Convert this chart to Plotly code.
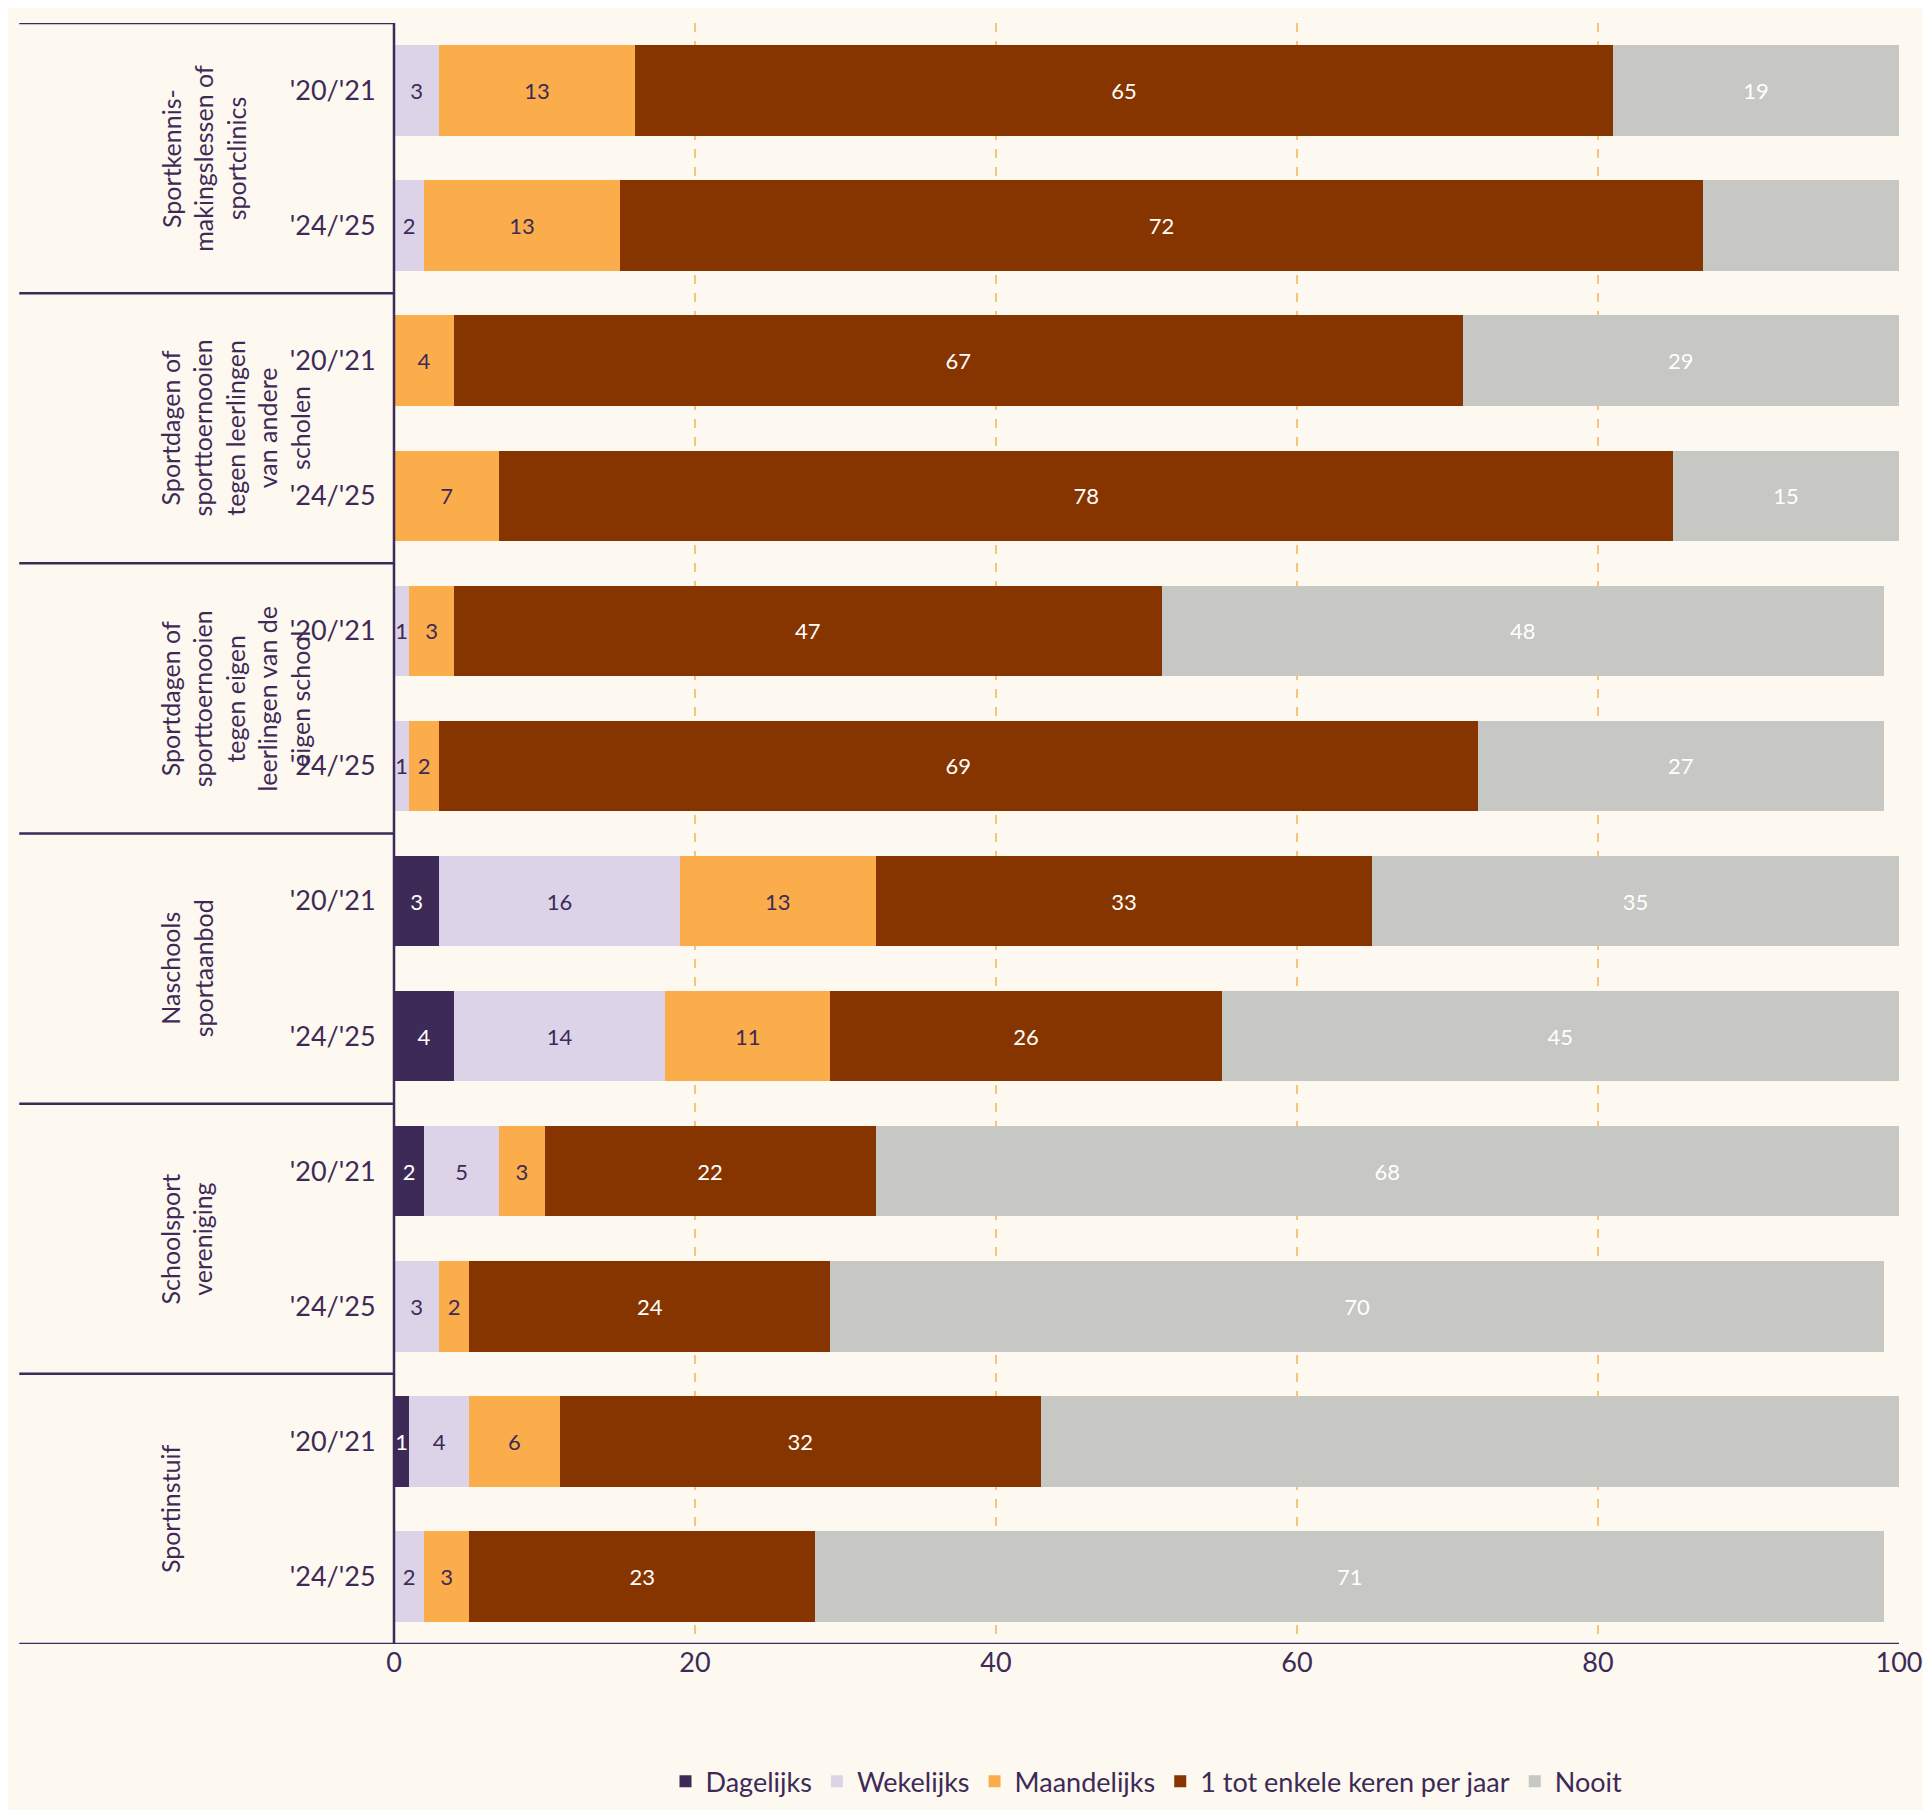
import plotly.graph_objects as go

groups = ["Sportkennis-<br>makingslessen of<br>sportclinics",
          "Sportdagen of<br>sporttoernooien<br>tegen leerlingen<br>van andere<br>scholen",
          "Sportdagen of<br>sporttoernooien<br>tegen eigen<br>leerlingen van de<br>eigen school",
          "Naschools<br>sportaanbod",
          "Schoolsport<br>vereniging",
          "Sportinstuif"]
years = ["'20/'21", "'24/'25"]
series = ["Dagelijks", "Wekelijks", "Maandelijks", "1 tot enkele keren per jaar", "Nooit"]
values = {
    "Dagelijks":   [0, 0, 0, 0, 0, 0, 3, 4, 2, 0, 1, 0],
    "Wekelijks":   [3, 2, 0, 0, 1, 1, 16, 14, 5, 3, 4, 2],
    "Maandelijks": [13, 13, 4, 7, 3, 2, 13, 11, 3, 2, 6, 3],
    "1 tot enkele keren per jaar": [65, 72, 67, 78, 47, 69, 33, 26, 22, 24, 32, 23],
    "Nooit":       [19, 14, 29, 15, 48, 27, 35, 45, 68, 70, 58, 71],
}
colors = ["#3d2a57", "#dcd3e9", "#fbac4b", "#863500", "#c7c7c3"]
textcolors = ["white", "#3d2a57", "#3d2a57", "white", "white"]

n = len(groups) * len(years)
ypos = list(range(n))
ticktext = [years[i % 2] for i in ypos]

fig = go.Figure()
for s, c, tc in zip(series, colors, textcolors):
    v = values[s]
    fig.add_trace(go.Bar(
        y=ypos, x=v, orientation="h", name=s, marker=dict(color=c, line=dict(width=0)),
        width=0.67, text=[str(a) for a in v], textposition="inside",
        insidetextanchor="middle", textfont=dict(color=tc, size=22, family="Lato"),
        constraintext="none", cliponaxis=False))

bg = "#fdf8f0"
line = "#3d2a57"
x0 = -0.249
shapes = [dict(type="line", xref="paper", yref="y", x0=0, x1=0, y0=-0.5, y1=n - 0.5,
               line=dict(color=line, width=2.5)),
          dict(type="line", xref="paper", yref="y", x0=x0, x1=1, y0=n - 0.5, y1=n - 0.5,
               line=dict(color=line, width=2.5))]
for g in range(len(groups)):
    yb = g * 2 - 0.5
    shapes.append(dict(type="line", xref="paper", yref="y", x0=x0, x1=0, y0=yb, y1=yb,
                       line=dict(color=line, width=2.5)))
annotations = []
for g, name in enumerate(groups):
    annotations.append(dict(xref="paper", yref="y", x=-0.16, y=g * 2 + 0.5, text=name,
                            showarrow=False, textangle=-90,
                            font=dict(size=25, color=line, family="Lato")))

fig.update_layout(
    barmode="stack", width=1931, height=1810,
    margin=dict(l=386, r=40, t=15, b=152),
    paper_bgcolor=bg, plot_bgcolor=bg, font=dict(family="Lato", color=line, size=27),
    shapes=shapes, annotations=annotations,
    xaxis=dict(range=[0, 100], tickvals=[0, 20, 40, 60, 80, 100], showgrid=True,
               gridcolor="#f5c57a", griddash="dash", gridwidth=1.5, zeroline=False,
               tickfont=dict(size=27), ticks="", ticklen=12, tickcolor=bg),
    yaxis=dict(range=[n - 0.5, -0.5], tickvals=ypos, ticktext=ticktext, showgrid=False,
               zeroline=False, tickfont=dict(size=27), ticks="outside", ticklen=12, tickcolor=bg),
    legend=dict(orientation="h", x=0.5, xanchor="center", y=-0.085, yanchor="middle",
                font=dict(size=27), traceorder="normal", itemwidth=30),
    bargap=0.33,
)
fig.write_html("out.html")
